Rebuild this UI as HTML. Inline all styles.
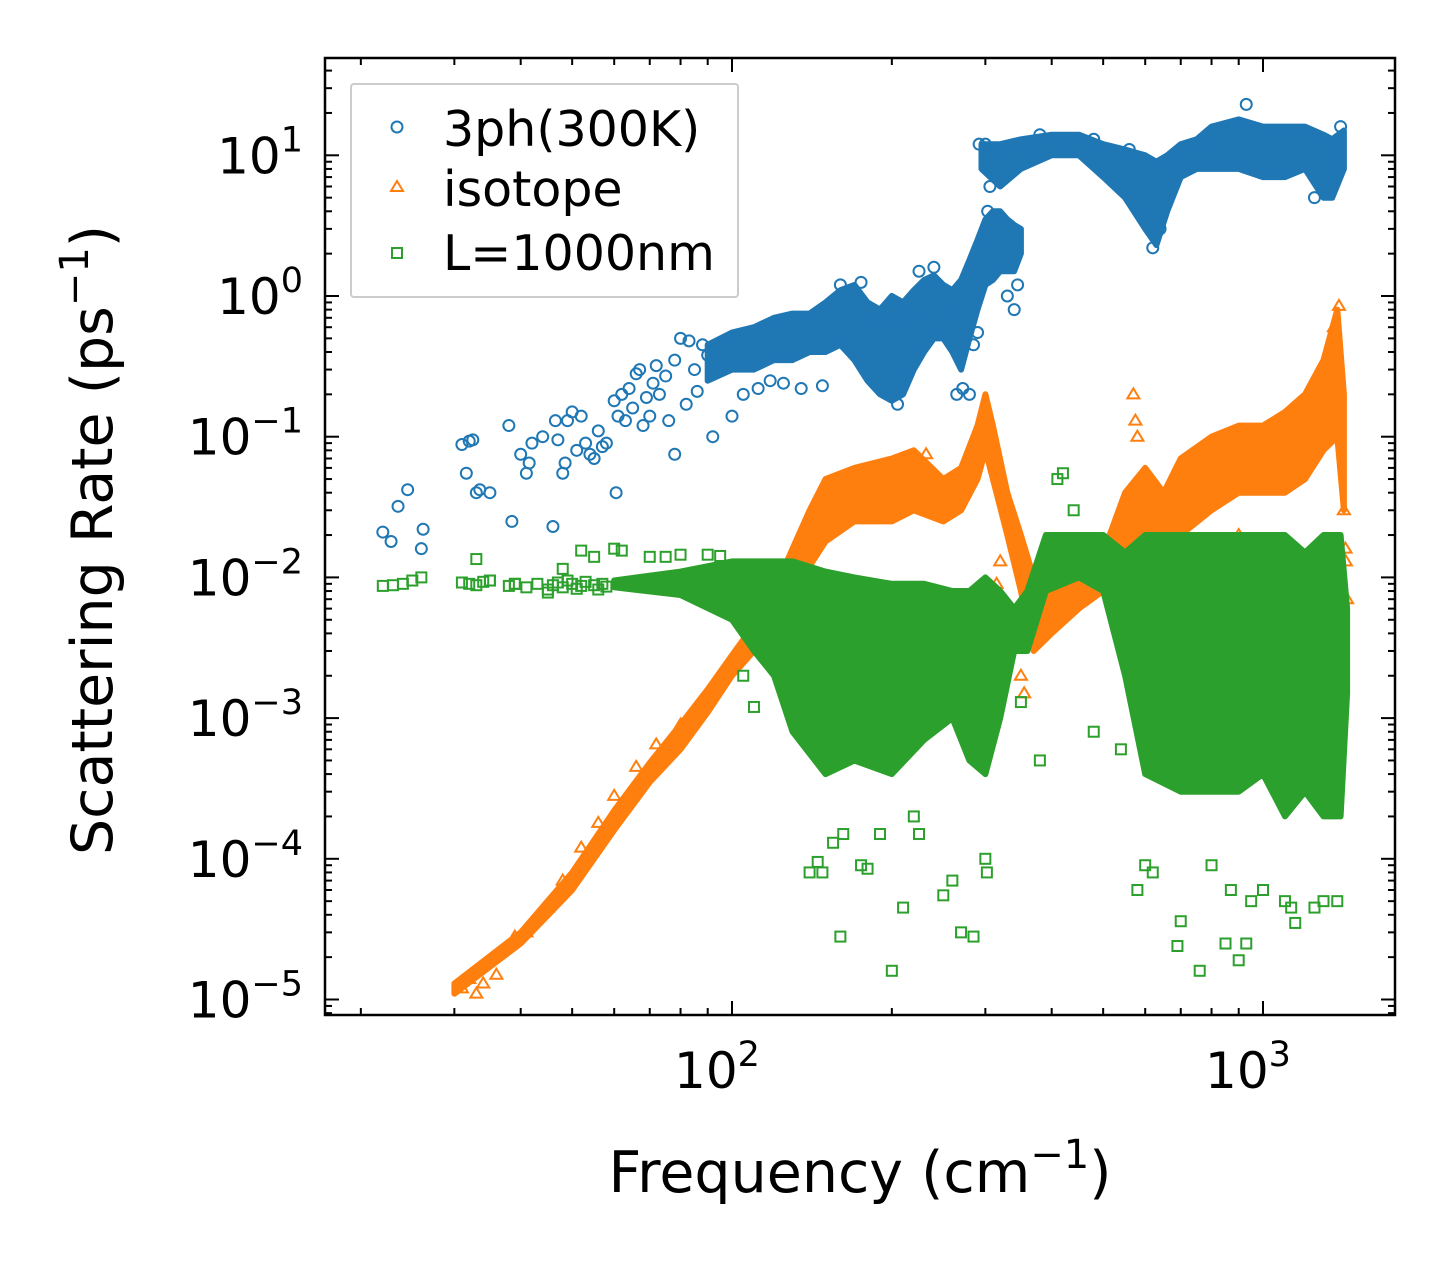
<!DOCTYPE html>
<html><head><meta charset="utf-8"><style>
html,body{margin:0;padding:0;background:#fff}
svg{display:block}
text{font-family:"DejaVu Sans","Liberation Sans",sans-serif;fill:#000}
</style></head><body>
<svg id="chart" width="1455" height="1265" viewBox="0 0 1455 1265" xmlns="http://www.w3.org/2000/svg">
<g id="bands"></g>
<g id="axes"></g>
<g id="legend">
<rect x="351" y="84" width="387" height="213" fill="#fff" fill-opacity="0.8" stroke="#ccc" stroke-width="2" rx="3"/>
<circle cx="397" cy="127" r="5.5" fill="none" stroke="#1f77b4" stroke-width="2"/>
<text x="443" y="146" font-size="49">3ph(300K)</text>
<path d="M397,181 L403,191 L391,191 Z" fill="none" stroke="#ff7f0e" stroke-width="2"/>
<text x="443" y="206" font-size="49">isotope</text>
<rect x="392" y="248" width="10" height="10" fill="none" stroke="#2ca02c" stroke-width="2"/>
<text x="443" y="270" font-size="49">L=1000nm</text>
</g>
</svg>
<script>
// ---- data ----
const blueEnvF=[90,100,110,120,130,140,150,160,170,180,190,200,210,220,230,240,250,260,270,280,290,300,310,320,330,340,350];
const blueEnvLo=[0.25,0.3,0.3,0.35,0.35,0.4,0.4,0.45,0.35,0.25,0.2,0.18,0.2,0.3,0.4,0.5,0.5,0.4,0.3,0.5,0.8,1.2,1.3,1.5,1.5,1.5,2];
const blueEnvHi=[0.45,0.55,0.6,0.7,0.75,0.75,0.9,1.1,1.2,0.9,0.8,1.0,0.9,1.1,1.3,1.4,1.2,1.1,1.3,1.8,2.5,3.5,4,4,3.5,3.2,3];
const blueHiF=[295,320,350,400,450,500,550,600,630,660,700,750,800,900,1000,1100,1200,1300,1350,1420];
const blueHiLo=[8,6,8,10,10,7,5,3,2.3,4,7,8,8,8,7,7,8,5,5,8];
const blueHiHi=[12,12,13,14,14,12,11,10,9,10,12,13,16,18,16,16,16,14,13,15];
const bluePtsF=[22,22.8,23.5,24.5,26,26.2,31,31.6,32,32.5,33,33.5,35,38,38.5,40,41,41.5,42,44,46,46.5,47,48,48.5,49,50,51,52,53,54,55,56,57,58,60,60.5,61,62,63,64,65,66,67,68,69,70,71,72,73,75,76,78,78,80,82,83,85,86,88,90,92,95,100,105,112,118,125,135,148,160,175,190,205,215,225,240,255,265,272,280,285,290,292,300,303,306,310,330,340,345,360,380,420,480,560,620,640,700,760,930,1250,1400];
const bluePtsR=[0.021,0.018,0.032,0.042,0.016,0.022,0.088,0.055,0.093,0.095,0.04,0.042,0.04,0.12,0.025,0.075,0.055,0.065,0.09,0.1,0.023,0.13,0.095,0.055,0.065,0.13,0.15,0.08,0.14,0.09,0.075,0.07,0.11,0.085,0.09,0.18,0.04,0.14,0.2,0.13,0.22,0.16,0.28,0.3,0.12,0.19,0.14,0.24,0.32,0.2,0.27,0.13,0.075,0.35,0.5,0.17,0.48,0.3,0.21,0.45,0.38,0.1,0.3,0.14,0.2,0.22,0.25,0.24,0.22,0.23,1.2,1.25,0.65,0.17,0.7,1.5,1.6,0.75,0.2,0.22,0.2,0.45,0.55,12,12,4,6,10,1.0,0.8,1.2,11,14,13,13,11,2.2,3,9,12,23,5,16];
const orEnvF=[30,40,50,60,70,80,90,100,110,120,130,140,150,170,200,220,250,270,290,300,310,330,350,370,400,450,500,550,600,650,700,800,900,1000,1100,1200,1300,1380,1420];
const orEnvLo=[1.1e-5,2.5e-5,6e-5,1.6e-4,3.5e-4,6e-4,1.1e-3,2e-3,3e-3,5e-3,8e-3,0.012,0.018,0.025,0.025,0.03,0.025,0.03,0.05,0.08,0.05,0.02,0.008,0.003,0.004,0.006,0.008,0.01,0.02,0.015,0.02,0.03,0.04,0.04,0.04,0.05,0.08,0.1,0.03];
const orEnvHi=[1.3e-5,3e-5,8e-5,2.2e-4,4.8e-4,9e-4,1.6e-3,2.8e-3,4.6e-3,8e-3,0.016,0.03,0.05,0.06,0.07,0.08,0.05,0.06,0.12,0.2,0.12,0.04,0.02,0.01,0.008,0.01,0.015,0.04,0.06,0.04,0.07,0.1,0.12,0.12,0.15,0.2,0.35,0.8,0.2];
const orPtsF=[31,32,33,34,36,39,41,45,48,52,56,60,66,72,80,232,570,575,580,320,315,330,340,350,355,1430,1432,1440,1420,900,950,1360,1390,650,800];
const orPtsR=[1.2e-5,1.4e-5,1.1e-5,1.3e-5,1.5e-5,2.8e-5,3e-5,4.5e-5,7e-5,1.2e-4,1.8e-4,2.8e-4,4.5e-4,6.5e-4,9e-4,0.075,0.2,0.13,0.1,0.013,0.009,0.006,0.004,0.002,0.0015,0.016,0.013,0.007,0.03,0.02,0.015,0.6,0.85,0.012,0.015];
const grEnvF=[60,80,100,110,120,130,150,170,200,230,260,280,300,320,340,360,390,450,500,550,600,700,800,900,1000,1100,1200,1300,1400,1440];
const grEnvLo=[0.0085,0.0075,0.005,0.003,0.002,0.0008,0.0004,0.0005,0.0004,0.0007,0.001,0.0005,0.0004,0.001,0.003,0.003,0.008,0.01,0.008,0.002,0.0004,0.0003,0.0003,0.0003,0.0004,0.0002,0.0003,0.0002,0.0002,0.0015];
const grEnvHi=[0.0095,0.011,0.013,0.013,0.013,0.013,0.011,0.01,0.009,0.009,0.008,0.008,0.01,0.008,0.006,0.008,0.02,0.02,0.02,0.015,0.02,0.02,0.02,0.02,0.02,0.02,0.015,0.02,0.02,0.006];
const grPtsF=[22,23,24,25,26,31,32,33,34,35,38,39,41,43,45,46,47,48,49,50,51,52,53,55,56,57,58,33,35,39,45,48,52,55,60,62,70,75,80,90,95,100,105,110,140,145,148,155,160,162,175,180,190,200,210,220,225,250,260,270,285,300,302,350,380,410,420,440,480,540,570,580,600,620,690,700,760,800,850,870,900,930,950,1000,1100,1130,1150,1250,1300,1380,1420];
const grPtsR=[0.0087,0.0088,0.009,0.0095,0.01,0.0092,0.009,0.0088,0.0093,0.0095,0.0087,0.009,0.0085,0.009,0.0082,0.0088,0.0092,0.0085,0.0095,0.009,0.0083,0.0087,0.0093,0.0088,0.0082,0.009,0.0086,0.0135,0.0095,0.009,0.0078,0.0115,0.0155,0.014,0.016,0.0155,0.014,0.014,0.0145,0.0145,0.0142,0.011,0.002,0.0012,8e-5,9.5e-5,8e-5,1.3e-4,2.8e-5,1.5e-4,9e-5,8.5e-5,1.5e-4,1.6e-5,4.5e-5,2e-4,1.5e-4,5.5e-5,7e-5,3e-5,2.8e-5,1e-4,8e-5,0.0013,0.0005,0.05,0.055,0.03,0.0008,0.0006,0.0015,6e-5,9e-5,8e-5,2.4e-5,3.6e-5,1.6e-5,9e-5,2.5e-5,6e-5,1.9e-5,2.5e-5,5e-5,6e-5,5e-5,4.5e-5,3.5e-5,4.5e-5,5e-5,5e-5,0.003];
const xTicks=[100,1000];
const xTickExp=["2","3"];
const yTicks=[1e1,1e0,1e-1,1e-2,1e-3,1e-4,1e-5];
const yTickExp=["1","0","−1","−2","−3","−4","−5"];
// ---- axes functions ----
const L=325,R=1395,T=58,B=1015;
const X=f=>732+531*(Math.log10(f)-2);
const Y=r=>296-140.7*Math.log10(r);
const NS="http://www.w3.org/2000/svg";
const bands=document.getElementById('bands');
const axes=document.getElementById('axes');
function mk(tag,attrs,parent){const e=document.createElementNS(NS,tag);for(const k in attrs)e.setAttribute(k,attrs[k]);parent.appendChild(e);return e;}
function band(F,lo,hi,color,name){
  let d='M'+F.map((f,i)=>X(f).toFixed(1)+','+Y(hi[i]).toFixed(1)).join(' L');
  for(let i=F.length-1;i>=0;i--)d+=' L'+X(F[i]).toFixed(1)+','+Y(lo[i]).toFixed(1);
  const p=mk('path',{d:d+'Z',fill:color,stroke:color,'stroke-width':6,'stroke-linejoin':'round'},bands);
  
  
}
function pts(F,Rr,kind,color,name){
  F.forEach((f,i)=>{
    const x=X(f),y=Y(Rr[i]);let e;
    if(kind==='c')e=mk('circle',{cx:x,cy:y,r:5.5,fill:'none',stroke:color,'stroke-width':2},bands);
    else if(kind==='t')e=mk('path',{d:`M${x},${y-6} L${x+6},${y+4} L${x-6},${y+4}Z`,fill:'none',stroke:color,'stroke-width':2},bands);
    else e=mk('rect',{x:x-5,y:y-5,width:10,height:10,fill:'none',stroke:color,'stroke-width':2},bands);
    
    
  });
}
band(blueEnvF,blueEnvLo,blueEnvHi,'#1f77b4','series-3ph-dense-low');
band(blueHiF,blueHiLo,blueHiHi,'#1f77b4','series-3ph-dense-high');
pts(bluePtsF,bluePtsR,'c','#1f77b4','point-3ph');
band(orEnvF,orEnvLo,orEnvHi,'#ff7f0e','series-isotope-dense');
pts(orPtsF,orPtsR,'t','#ff7f0e','point-isotope');
band(grEnvF,grEnvLo,grEnvHi,'#2ca02c','series-boundary-dense');
pts(grPtsF,grPtsR,'s','#2ca02c','point-boundary');
// frame
const fr=mk('rect',{x:L,y:T,width:R-L,height:B-T,fill:'none',stroke:'#000','stroke-width':2.5},axes);


for(let d=10;d<=1000;d*=10){for(let m=1;m<10;m++){const f=d*m;const x=X(f);if(x<L||x>R)continue;const len=m===1?14:7;
  mk('line',{x1:x,x2:x,y1:B,y2:B-len,stroke:'#000','stroke-width':2},axes);
  mk('line',{x1:x,x2:x,y1:T,y2:T+len,stroke:'#000','stroke-width':2},axes);}}
xTicks.forEach((f,i)=>{const t=mk('text',{x:X(f)-15,y:1088,'font-size':50,'text-anchor':'middle'},axes);
  
  
  t.innerHTML='10<tspan font-size="35" dy="-22">'+xTickExp[i]+'</tspan>';});
for(let e=-6;e<=1;e++){for(let m=1;m<10;m++){const r=Math.pow(10,e)*m;const y=Y(r);if(y<T||y>B)continue;const len=m===1?14:7;
  mk('line',{x1:L,x2:L+len,y1:y,y2:y,stroke:'#000','stroke-width':2},axes);
  mk('line',{x1:R,x2:R-len,y1:y,y2:y,stroke:'#000','stroke-width':2},axes);}}
yTicks.forEach((r,i)=>{const t=mk('text',{x:303,y:Y(r)+18,'font-size':50,'text-anchor':'end'},axes);
  
  
  t.innerHTML='10<tspan font-size="35" dy="-22">'+yTickExp[i]+'</tspan>';});
const xt=mk('text',{x:860,y:1192,'font-size':57,'text-anchor':'middle'},axes);


xt.innerHTML='Frequency (cm<tspan font-size="40" dy="-24">−1</tspan><tspan dy="24">)</tspan>';
const yt=mk('text',{x:0,y:0,'font-size':57,'text-anchor':'middle',transform:'translate(112,540) rotate(-90)'},axes);


yt.innerHTML='Scattering Rate (ps<tspan font-size="40" dy="-24">−1</tspan><tspan dy="24">)</tspan>';
</script>
</body></html>
